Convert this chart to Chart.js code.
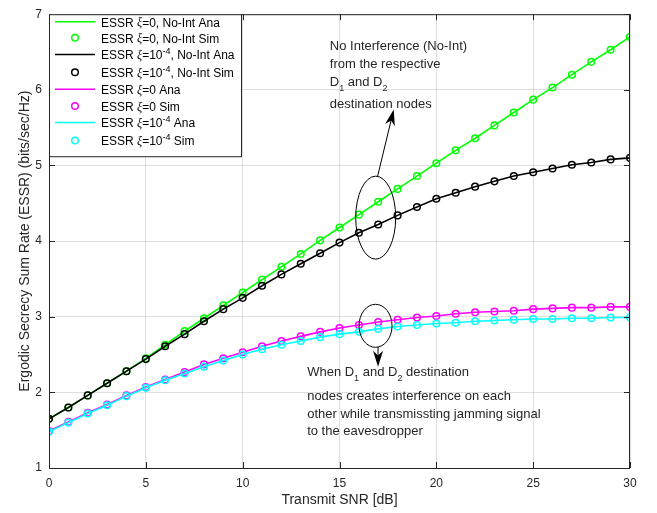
<!DOCTYPE html>
<html>
<head>
<meta charset="utf-8">
<script src="https://cdn.jsdelivr.net/npm/chart.js@4.4.0/dist/chart.umd.min.js"></script>
<style>
    html, body { margin: 0; padding: 0; background: #fff; }
</style>
</head>
<body>
<canvas id="essrChart" width="657" height="513"></canvas>
<script>
// Du lieu doc tu hinh
const snr = [0, 1, 2, 3, 4, 5, 6, 7, 8, 9, 10, 11, 12, 13, 14, 15, 16, 17, 18, 19, 20,
    21, 22, 23, 24, 25, 26, 27, 28, 29, 30];
const essrNoIntXi0 = [1.65, 1.80, 1.96, 2.12, 2.28, 2.45, 2.63, 2.81, 2.98, 3.15, 3.32,
    3.49, 3.66, 3.83, 4.01, 4.18, 4.35, 4.52, 4.69, 4.86, 5.03,
    5.20, 5.36, 5.53, 5.70, 5.87, 6.03, 6.20, 6.37, 6.53, 6.70];
const essrNoIntXi4 = [1.65, 1.80, 1.96, 2.12, 2.28, 2.44, 2.61, 2.77, 2.94, 3.10, 3.25,
    3.41, 3.56, 3.70, 3.84, 3.98, 4.11, 4.22, 4.34, 4.45, 4.56,
    4.64, 4.72, 4.79, 4.86, 4.91, 4.96, 5.01, 5.04, 5.08, 5.10];
const essrXi0 = [1.49, 1.61, 1.73, 1.84, 1.96, 2.07, 2.17, 2.27, 2.37, 2.45, 2.53,
    2.61, 2.68, 2.74, 2.80, 2.85, 2.89, 2.93, 2.96, 2.99, 3.01,
    3.04, 3.06, 3.07, 3.08, 3.10, 3.11, 3.12, 3.12, 3.13, 3.13];
const essrXi4 = [1.48, 1.60, 1.72, 1.83, 1.95, 2.06, 2.16, 2.25, 2.34, 2.42, 2.50,
    2.57, 2.63, 2.68, 2.73, 2.77, 2.80, 2.84, 2.87, 2.89, 2.91,
    2.92, 2.94, 2.95, 2.96, 2.97, 2.97, 2.98, 2.98, 2.99, 2.99];
const xTicks = [0, 5, 10, 15, 20, 25, 30];
const yTicks = [1, 2, 3, 4, 5, 6, 7];
const seriesLabels = [
    'ESSR ξ=0, No-Int Ana', 'ESSR ξ=0, No-Int Sim',
    'ESSR ξ=10^{-4}, No-Int Ana', 'ESSR ξ=10^{-4}, No-Int Sim',
    'ESSR ξ=0 Ana', 'ESSR ξ=0 Sim',
    'ESSR ξ=10^{-4} Ana', 'ESSR ξ=10^{-4} Sim'
];

const AXIS_COLOR = '#262626';
const SANS = '"Liberation Sans", Arial, Helvetica, sans-serif';

function toPoints(values) {
    return snr.map((x, i) => ({ x: x, y: values[i] }));
}

// Ve chu co chi so tren/duoi (^{..} va _{..}) va ky tu ξ nghieng
function drawRich(ctx, str, x, y, size) {
    const parts = str.split(/(\^\{[^}]*\}|_\{[^}]*\}|ξ)/).filter(Boolean);
    ctx.textAlign = 'left';
    ctx.textBaseline = 'middle';
    for (const p of parts) {
        let txt = p;
        let font = size + 'px ' + SANS;
        let dy = 0;
        if (p.startsWith('^{')) {
            txt = p.slice(2, -1);
            font = Math.round(size * 0.72) + 'px ' + SANS;
            dy = -size * 0.38;
        } else if (p.startsWith('_{')) {
            txt = p.slice(2, -1);
            font = Math.round(size * 0.72) + 'px ' + SANS;
            dy = size * 0.45;
        } else if (p === 'ξ') {
            font = 'italic ' + size + 'px "Liberation Serif", "Times New Roman", serif';
        }
        ctx.font = font;
        ctx.fillText(txt, x, y + dy);
        x += ctx.measureText(txt).width;
    }
}

function drawArrow(ctx, x1, y1, x2, y2, headLen, headW) {
    const ang = Math.atan2(y2 - y1, x2 - x1);
    const cos = Math.cos(ang), sin = Math.sin(ang);
    const bx = x2 - headLen * cos, by = y2 - headLen * sin;
    ctx.beginPath();
    ctx.moveTo(x1, y1);
    ctx.lineTo(x2 - headLen * 0.6 * cos, y2 - headLen * 0.6 * sin);
    ctx.stroke();
    ctx.beginPath();
    ctx.moveTo(x2, y2);
    ctx.lineTo(bx - headW / 2 * sin, by + headW / 2 * cos);
    ctx.lineTo(x2 - headLen * 0.7 * cos, y2 - headLen * 0.7 * sin);
    ctx.lineTo(bx + headW / 2 * sin, by - headW / 2 * cos);
    ctx.closePath();
    ctx.fill();
}

// Khung truc, vach chia huong vao trong (kieu MATLAB)
const axesBoxPlugin = {
    id: 'axesBox',
    afterDatasetsDraw(chart) {
        const { ctx, chartArea: a, scales } = chart;
        ctx.save();
        ctx.strokeStyle = AXIS_COLOR;
        ctx.lineWidth = 1;
        ctx.strokeRect(a.left + 0.5, a.top + 0.5, a.right - a.left - 1, a.bottom - a.top);
        const tl = 6;
        ctx.beginPath();
        xTicks.forEach(v => {
            const px = Math.round(scales.x.getPixelForValue(v)) + 0.5;
            ctx.moveTo(px, a.bottom); ctx.lineTo(px, a.bottom - tl);
            ctx.moveTo(px, a.top); ctx.lineTo(px, a.top + tl);
        });
        yTicks.forEach(v => {
            const py = Math.round(scales.y.getPixelForValue(v)) + 0.5;
            ctx.moveTo(a.left, py); ctx.lineTo(a.left + tl, py);
            ctx.moveTo(a.right, py); ctx.lineTo(a.right - tl, py);
        });
        ctx.stroke();
        ctx.restore();
    }
};

// Chu thich, elip va mui ten
const annotationPlugin = {
    id: 'notes',
    afterDatasetsDraw(chart) {
        const { ctx, scales: { x, y } } = chart;
        ctx.save();
        ctx.strokeStyle = '#000';
        ctx.fillStyle = '#000';
        ctx.lineWidth = 1;

        // elip quanh 2 duong No-Int
        ctx.beginPath();
        ctx.ellipse(x.getPixelForValue(16.87), y.getPixelForValue(4.31), 20, 41.5, 0, 0, Math.PI * 2);
        ctx.stroke();
        drawArrow(ctx, x.getPixelForValue(16.96), y.getPixelForValue(4.85),
            x.getPixelForValue(17.8), y.getPixelForValue(5.74), 16, 10);

        // elip quanh 2 duong co nhieu
        ctx.beginPath();
        ctx.ellipse(x.getPixelForValue(16.86), y.getPixelForValue(2.88), 16.5, 21.5, 0, 0, Math.PI * 2);
        ctx.stroke();
        drawArrow(ctx, x.getPixelForValue(16.99), y.getPixelForValue(2.60),
            x.getPixelForValue(16.99), y.getPixelForValue(2.34), 16, 10);

        ctx.fillStyle = AXIS_COLOR;
        const note1 = ['No Interference (No-Int)', 'from the respective', 'D_{1} and D_{2}', 'destination nodes'];
        const off1 = [0, 18, 36, 58];
        const x1 = x.getPixelForValue(14.5), y1 = y.getPixelForValue(6.57);
        note1.forEach((t, i) => drawRich(ctx, t, x1, y1 + off1[i], 13));

        const note2 = ['When D_{1} and D_{2} destination', 'nodes creates interference on each',
            'other while transmissting jamming signal', 'to the eavesdropper'];
        const off2 = [0, 24, 42, 59];
        const x2 = x.getPixelForValue(13.33), y2 = y.getPixelForValue(2.26);
        note2.forEach((t, i) => drawRich(ctx, t, x2, y2 + off2[i], 13));
        ctx.restore();
    }
};

// Legend tu ve de co chi so tren
const legendPlugin = {
    id: 'matLegend',
    afterDraw(chart) {
        const { ctx, chartArea: a } = chart;
        const left = a.left, top = a.top, w = 192, h = 142;
        const rows = [21.7, 37.7, 54.5, 72.3, 89.3, 106, 122.5, 140.5];
        ctx.save();
        ctx.fillStyle = '#fff';
        ctx.fillRect(left, top, w, h);
        ctx.strokeStyle = AXIS_COLOR;
        ctx.lineWidth = 1;
        ctx.strokeRect(left + 0.5, top + 0.5, w, h);
        chart.data.datasets.forEach((ds, i) => {
            const cy = rows[i];
            ctx.strokeStyle = ds.borderColor;
            if (ds.showLine === false) {
                ctx.lineWidth = ds.pointBorderWidth;
                ctx.beginPath();
                ctx.arc(left + 26, cy, ds.pointRadius, 0, Math.PI * 2);
                ctx.stroke();
            } else {
                ctx.lineWidth = ds.borderWidth;
                ctx.beginPath();
                ctx.moveTo(left + 6, cy); ctx.lineTo(left + 46, cy);
                ctx.stroke();
            }
            ctx.fillStyle = '#000';
            drawRich(ctx, ds.label, left + 52, cy + 1.5, 12);
        });
        ctx.restore();
    }
};

const colors = ['#00ff00', '#000000', '#ff00ff', '#00ffff'];
const series = [essrNoIntXi0, essrNoIntXi4, essrXi0, essrXi4];
const datasets = [];
series.forEach((vals, k) => {
    datasets.push({
        label: seriesLabels[2 * k],
        data: toPoints(vals),
        borderColor: colors[k],
        borderWidth: 1.6,
        pointRadius: 0,
        fill: false,
        tension: 0,
        order: 20 - 2 * k
    });
    datasets.push({
        label: seriesLabels[2 * k + 1],
        data: toPoints(vals),
        showLine: false,
        borderColor: colors[k],
        pointBorderColor: colors[k],
        pointBackgroundColor: 'rgba(0,0,0,0)',
        pointRadius: 3.3,
        pointBorderWidth: 1.5,
        order: 19 - 2 * k
    });
});

const ctx = document.getElementById('essrChart').getContext('2d');
new Chart(ctx, {
    type: 'line',
    data: { datasets: datasets },
    options: {
        responsive: false,
        animation: false,
        devicePixelRatio: 1,
        layout: { padding: { top: 10, right: 27, left: 0, bottom: 0 } },
        plugins: {
            legend: { display: false },
            tooltip: { enabled: false }
        },
        scales: {
            x: {
                type: 'linear',
                min: 0,
                max: 30,
                afterBuildTicks: s => { s.ticks = xTicks.map(v => ({ value: v })); },
                afterFit: s => { s.height = 45; },
                ticks: { color: AXIS_COLOR, font: { family: SANS, size: 12 }, padding: 8, maxRotation: 0 },
                grid: { color: 'rgba(38,38,38,0.15)', drawTicks: false },
                border: { display: false },
                title: {
                    display: true,
                    text: 'Transmit SNR [dB]',
                    color: AXIS_COLOR,
                    font: { family: SANS, size: 14 },
                    padding: { top: 0, bottom: 4 }
                }
            },
            y: {
                type: 'linear',
                min: 1,
                max: 7,
                afterBuildTicks: s => { s.ticks = yTicks.map(v => ({ value: v })); },
                afterFit: s => { s.width = 49; },
                ticks: { color: AXIS_COLOR, font: { family: SANS, size: 12 }, padding: 7 },
                grid: { color: 'rgba(38,38,38,0.15)', drawTicks: false },
                border: { display: false },
                title: {
                    display: true,
                    text: 'Ergodic Secrecy Sum Rate (ESSR) (bits/sec/Hz)',
                    color: AXIS_COLOR,
                    font: { family: SANS, size: 14 },
                    padding: { top: 17, bottom: 0 }
                }
            }
        }
    },
    plugins: [axesBoxPlugin, annotationPlugin, legendPlugin]
});
</script>
</body>
</html>
